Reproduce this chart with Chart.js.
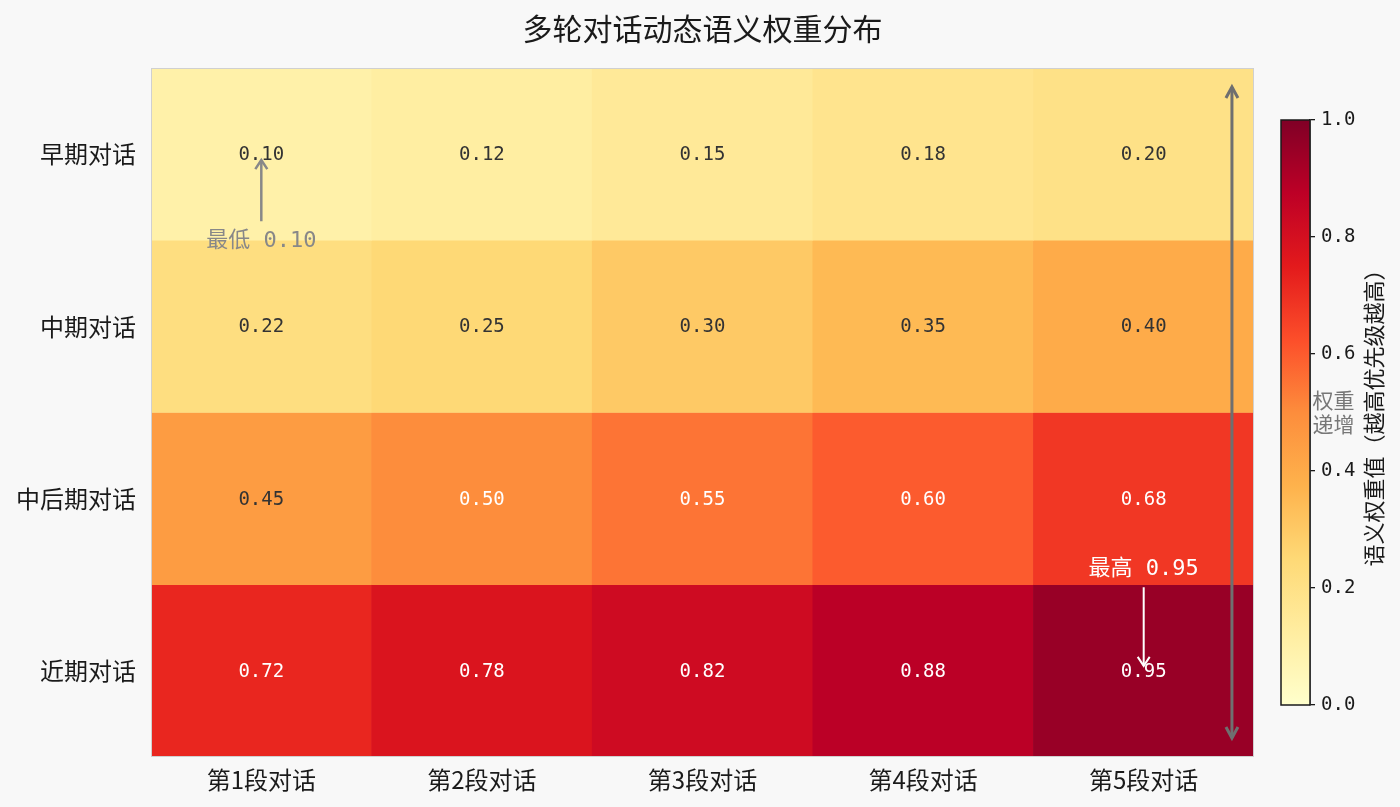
<!DOCTYPE html>
<html>
<head>
<meta charset="utf-8">
<script src="https://cdn.jsdelivr.net/npm/chart.js@4/dist/chart.umd.min.js"></script>
<style>
    html, body { margin: 0; padding: 0; background: #f8f8f8; }
    #wrap { position: relative; width: 1400px; height: 807px; }
    #wrap canvas { position: absolute; left: 0; top: 0; }
</style>
</head>
<body>
<div id="wrap">
    <canvas id="heatmap" width="1400" height="807"></canvas>
    <canvas id="colorbar" width="1400" height="807"></canvas>
</div>
<script>
// Data
const stageLabels = ['早期对话', '中期对话', '中后期对话', '近期对话'];
const roundLabels = ['第1段对话', '第2段对话', '第3段对话', '第4段对话', '第5段对话'];

const earlyWeights = [0.10, 0.12, 0.15, 0.18, 0.20];
const midWeights = [0.22, 0.25, 0.30, 0.35, 0.40];
const lateMidWeights = [0.45, 0.50, 0.55, 0.60, 0.68];
const recentWeights = [0.72, 0.78, 0.82, 0.88, 0.95];

const colorbarTicks = [0, 0.2, 0.4, 0.6, 0.8, 1.0];

const weightRows = [earlyWeights, midWeights, lateMidWeights, recentWeights];

const chartTitle = '多轮对话动态语义权重分布';
const colorbarLabel = '语义权重值（越高优先级越高）';

// YlOrRd colormap
const ylorrd = ['#ffffcc', '#ffeda0', '#fed976', '#feb24c', '#fd8d3c',
    '#fc4e2a', '#e31a1c', '#bd0026', '#800026'];

const CJK = '"Noto Sans CJK SC", "Noto Sans", sans-serif';
const MONO = '"DejaVu Sans Mono", "Noto Sans CJK SC", monospace';

function hexToRgb(h) {
    return [1, 3, 5].map(i => parseInt(h.substr(i, 2), 16));
}

function colormap(v) {
    const n = ylorrd.length - 1;
    const t = Math.min(Math.max(v, 0), 1) * n;
    const i = Math.min(Math.floor(t), n - 1);
    const f = t - i;
    const a = hexToRgb(ylorrd[i]);
    const b = hexToRgb(ylorrd[i + 1]);
    const c = a.map((x, k) => Math.round(x + (b[k] - x) * f));
    return `rgb(${c[0]}, ${c[1]}, ${c[2]})`;
}

// find min / max cell
let minCell = { v: Infinity }, maxCell = { v: -Infinity };
weightRows.forEach((row, r) => row.forEach((v, c) => {
    if (v < minCell.v) minCell = { v, r, c };
    if (v > maxCell.v) maxCell = { v, r, c };
}));

const datasets = weightRows.map((row, r) => ({
    label: stageLabels[r],
    data: row.map(() => [r, r + 1]),
    weights: row,
    backgroundColor: row.map(colormap),
    borderWidth: 0,
    grouped: false,
    barPercentage: 1,
    categoryPercentage: 1,
}));

function chevron(ctx, x, y, dir, len, half) {
    ctx.beginPath();
    ctx.moveTo(x - half, y - dir * len);
    ctx.lineTo(x, y);
    ctx.lineTo(x + half, y - dir * len);
    ctx.stroke();
}

function vArrow(ctx, x, yFrom, yTo, color, width, len, half, both) {
    ctx.save();
    ctx.strokeStyle = color;
    ctx.lineWidth = width;
    ctx.beginPath();
    ctx.moveTo(x, yFrom);
    ctx.lineTo(x, yTo);
    ctx.stroke();
    const dir = yTo > yFrom ? 1 : -1;
    chevron(ctx, x, yTo, dir, len, half);
    if (both) chevron(ctx, x, yFrom, -dir, len, half);
    ctx.restore();
}

const titlePlugin = {
    id: 'titlePlugin',
    afterDraw(chart) {
        const { ctx, chartArea: a } = chart;
        ctx.save();
        ctx.font = '30px ' + CJK;
        ctx.fillStyle = '#1a1a1a';
        ctx.textAlign = 'center';
        ctx.textBaseline = 'middle';
        ctx.fillText(chartTitle, (a.left + a.right) / 2, 29);
        ctx.restore();
    }
};

const cellText = {
    id: 'cellText',
    afterDatasetsDraw(chart) {
        const { ctx } = chart;
        ctx.save();
        ctx.font = '19px ' + MONO;
        ctx.textAlign = 'center';
        ctx.textBaseline = 'middle';
        chart.data.datasets.forEach((ds, r) => {
            chart.getDatasetMeta(r).data.forEach((bar, c) => {
                const v = ds.weights[c];
                ctx.fillStyle = v >= 0.5 ? '#ffffff' : '#333333';
                ctx.fillText(v.toFixed(2), bar.x, (bar.y + bar.base) / 2 + 1);
            });
        });
        ctx.restore();
    }
};

const plotFrame = {
    id: 'plotFrame',
    afterDatasetsDraw(chart) {
        const { ctx, chartArea: a } = chart;
        ctx.save();
        ctx.strokeStyle = '#d0d0d0';
        ctx.lineWidth = 1;
        ctx.strokeRect(a.left + 0.5, a.top + 0.5, a.width - 1, a.height - 1);
        ctx.restore();
    }
};

const annotations = {
    id: 'annotations',
    afterDraw(chart) {
        const { ctx } = chart;
        const xs = chart.scales.x, ys = chart.scales.y;
        const cellW = xs.getPixelForValue(1) - xs.getPixelForValue(0);

        // lowest
        let x = xs.getPixelForValue(minCell.c);
        let ty = ys.getPixelForValue(minCell.r + 1);
        vArrow(ctx, x, ty - 19, ys.getPixelForValue(minCell.r + 0.5) + 6, '#888888', 2.5, 9, 6);
        ctx.save();
        ctx.font = '22px ' + MONO;
        ctx.fillStyle = '#888888';
        ctx.textAlign = 'center';
        ctx.textBaseline = 'middle';
        ctx.fillText('最低 ' + minCell.v.toFixed(2), x, ty + 1);

        // highest
        x = xs.getPixelForValue(maxCell.c);
        ty = ys.getPixelForValue(maxCell.r - 0.09);
        ctx.fillStyle = '#ffffff';
        ctx.fillText('最高 ' + maxCell.v.toFixed(2), x, ty);
        ctx.restore();
        vArrow(ctx, x, ty + 18, ys.getPixelForValue(maxCell.r + 0.5) - 5, '#ffffff', 2, 9, 6);

        // trend arrow
        const tx = xs.getPixelForValue(roundLabels.length - 1) + 0.4 * cellW;
        vArrow(ctx, tx, ys.getPixelForValue(3.89), ys.getPixelForValue(0.11), '#6f6f6f', 3, 11, 6, true);

        const lx = xs.getPixelForValue(roundLabels.length - 1) + 0.86 * cellW;
        const ly = ys.getPixelForValue(2);
        ctx.save();
        ctx.font = '21px ' + CJK;
        ctx.fillStyle = '#777777';
        ctx.textAlign = 'center';
        ctx.textBaseline = 'middle';
        ctx.fillText('权重', lx, ly - 12);
        ctx.fillText('递增', lx, ly + 12);
        ctx.restore();
    }
};

const heatmap = new Chart(document.getElementById('heatmap'), {
    type: 'bar',
    data: { labels: roundLabels, datasets: datasets },
    options: {
        responsive: false,
        animation: false,
        events: [],
        layout: { padding: { left: 0, right: 146, top: 68, bottom: 0 } },
        plugins: {
            legend: { display: false },
            tooltip: { enabled: false },
            title: { display: false },
        },
        scales: {
            x: {
                type: 'category',
                offset: true,
                grid: { display: false, drawTicks: false },
                border: { display: false },
                ticks: { color: '#1a1a1a', font: { family: CJK, size: 24 }, padding: 8 },
                afterFit(s) { s.height = 50; },
            },
            y: {
                type: 'linear',
                min: 0,
                max: 4,
                reverse: true,
                grid: { display: false, drawTicks: false },
                border: { display: false },
                afterBuildTicks(s) {
                    s.ticks = stageLabels.map((_, i) => ({ value: i + 0.5 }));
                },
                ticks: {
                    color: '#1a1a1a',
                    font: { family: CJK, size: 24 },
                    padding: 15,
                    autoSkip: false,
                    callback: (v, i) => stageLabels[i],
                },
                afterFit(s) { s.width = 151; },
            },
        },
    },
    plugins: [cellText, plotFrame, annotations, titlePlugin],
});

// Colorbar

function colorbarFill(context) {
    const { chart } = context;
    const a = chart.chartArea;
    if (!a) return ylorrd[4];
    const g = chart.ctx.createLinearGradient(0, a.bottom, 0, a.top);
    ylorrd.forEach((c, i) => g.addColorStop(i / (ylorrd.length - 1), c));
    return g;
}

const colorbarFrame = {
    id: 'colorbarFrame',
    afterDatasetsDraw(chart) {
        const { ctx, chartArea: a } = chart;
        ctx.save();
        ctx.strokeStyle = '#1a1a1a';
        ctx.lineWidth = 1.5;
        ctx.strokeRect(a.left, a.top, a.width, a.height);
        ctx.translate(a.right + 64, (a.top + a.bottom) / 2);
        ctx.rotate(-Math.PI / 2);
        ctx.font = '22px ' + CJK;
        ctx.fillStyle = '#1a1a1a';
        ctx.textAlign = 'center';
        ctx.textBaseline = 'middle';
        ctx.fillText(colorbarLabel, 0, 0);
        ctx.restore();
    }
};

const colorbar = new Chart(document.getElementById('colorbar'), {
    type: 'bar',
    data: {
        labels: [''],
        datasets: [{
            data: [[0, 1]],
            backgroundColor: colorbarFill,
            borderWidth: 0,
            barPercentage: 1,
            categoryPercentage: 1,
        }],
    },
    options: {
        responsive: false,
        animation: false,
        events: [],
        layout: { padding: { left: 1281, right: 0, top: 120, bottom: 102 } },
        plugins: { legend: { display: false }, tooltip: { enabled: false } },
        scales: {
            x: { display: false },
            y: {
                position: 'right',
                min: 0,
                max: 1,
                afterBuildTicks(s) {
                    s.ticks = colorbarTicks.map(v => ({ value: v }));
                },
                ticks: {
                    color: '#1a1a1a',
                    font: { family: MONO, size: 19 },
                    padding: 6,
                    callback: v => v.toFixed(1),
                },
                grid: { drawOnChartArea: false, tickLength: 5, color: '#1a1a1a', lineWidth: 1.3 },
                border: { color: '#1a1a1a', width: 1.5 },
                afterFit(s) { s.width = 90; },
            },
        },
    },
    plugins: [colorbarFrame],
});
</script>
</body>
</html>
